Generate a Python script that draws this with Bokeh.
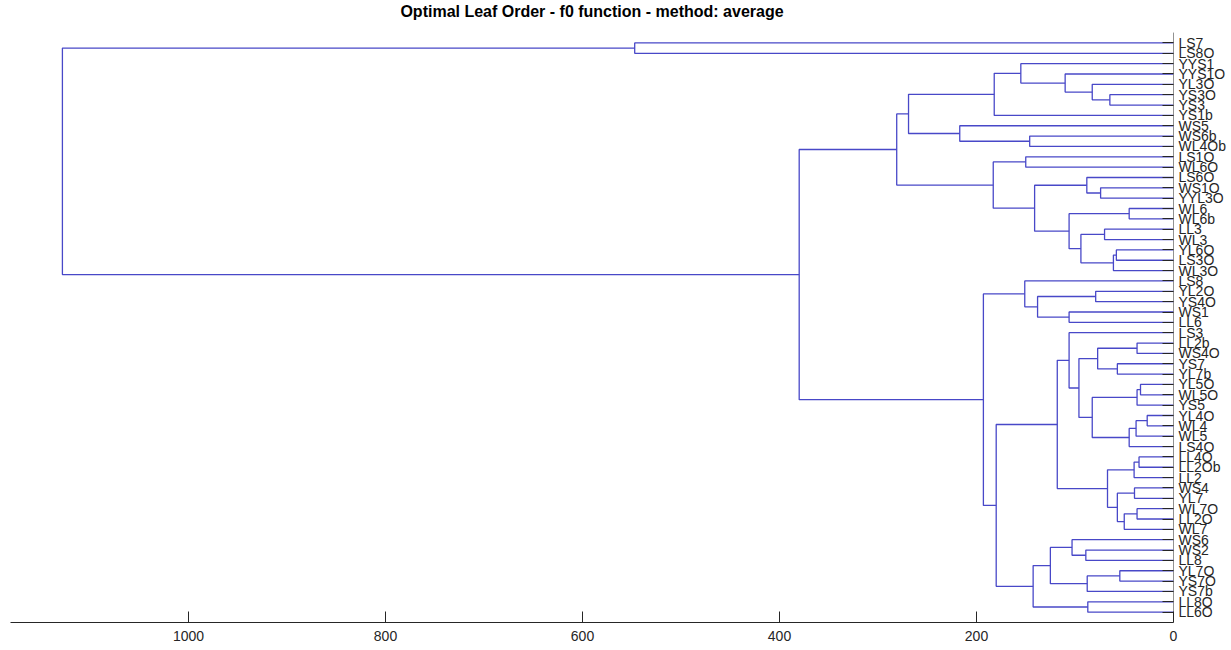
from bokeh.plotting import figure
from bokeh.models import Range1d, FixedTicker, ColumnDataSource, Label
from bokeh.embed import file_html
from bokeh.resources import INLINE

# ---------------- data ----------------
title_text = "Optimal Leaf Order - f0 function - method: average"

leaf_names = ["LS7", "LS8O", "YYS1", "YYS1O", "YL3O", "YS3O", "YS3", "YS1b", "WS5", "WS6b",
              "WL4Ob", "LS1O", "WL6O", "LS6O", "WS1O", "YYL3O", "WL6", "WL6b", "LL3", "WL3",
              "YL6O", "LS3O", "WL3O", "LS8", "YL2O", "YS4O", "WS1", "LL6", "LS3", "LL2b",
              "WS4O", "YS7", "YL7b", "YL5O", "WL5O", "YS5", "YL4O", "WL4", "WL5", "LS4O",
              "LL4O", "LL2Ob", "LL2", "WS4", "YL7", "WL7O", "LL2O", "WL7", "WS6", "WS2",
              "LL8", "YL7O", "YS7O", "YS7b", "LL8O", "LL6O"]

# linkage: node id, left child, right child, merge height
node_ids = ["n1", "n2", "n3", "n4", "n5", "n6", "n7", "n8", "n9", "n10",
            "n11", "n12", "n13", "n14", "n15", "n16", "n17", "n18", "n19", "n20",
            "n21", "n22", "n23", "n24", "n25", "n26", "n27", "n28", "n29", "n30",
            "n31", "n32", "n33", "n34", "n35", "n36", "n37", "n38", "n39", "n40",
            "n41", "n42", "n43", "n44", "n45", "n46", "n47", "n48", "n49", "n50",
            "n51", "n52", "n53", "n54", "n55"]
left_child = ["LS7", "YS3O", "YL3O", "YYS1O", "YYS1", "n5", "WS6b", "WS5", "n6", "LS1O",
              "WS1O", "LS6O", "WL6", "LL3", "YL6O", "n15", "n14", "n13", "n12", "n10",
              "n9", "YL2O", "WS1", "n22", "LS8", "LL2b", "YS7", "n26", "YL5O", "n29",
              "YL4O", "n31", "n32", "n30", "n28", "LS3", "LL4O", "n37", "WS4", "WL7O",
              "n40", "n39", "n38", "n36", "WS2", "WS6", "YL7O", "n47", "n46", "LL8O",
              "n49", "n44", "n25", "n21", "n1"]
right_child = ["LS8O", "YS3", "n2", "n3", "n4", "YS1b", "WL4Ob", "n7", "n8", "WL6O",
               "YYL3O", "n11", "WL6b", "WL3", "LS3O", "WL3O", "n16", "n17", "n18", "n19",
               "n20", "YS4O", "LL6", "n23", "n24", "WS4O", "YL7b", "n27", "WL5O", "YS5",
               "WL4", "WL5", "LS4O", "n33", "n34", "n35", "LL2Ob", "LL2", "YL7", "LL2O",
               "WL7", "n41", "n42", "n43", "LL8", "n45", "YS7O", "YS7b", "n48", "LL6O",
               "n50", "n51", "n52", "n53", "n54"]
merge_height = [547, 64.6, 82.5, 110, 155, 182, 146, 217, 269, 150,
                74, 88, 45, 70, 58, 61, 94, 106, 141, 183,
                281, 79, 106, 138, 151, 37, 57, 77, 33.5, 37,
                26.7, 38, 45, 82.5, 96, 106, 35, 40, 39.6, 37,
                50, 57, 67, 118, 89, 103, 54.5, 87.6, 125, 87,
                142.5, 180, 193, 380, 1128]

x_ticks = [0, 200, 400, 600, 800, 1000]

# ---------------- layout of the tree ----------------
pos_y = {name: i + 1 for i, name in enumerate(leaf_names)}
pos_h = {name: 0.0 for name in leaf_names}
xs, ys = [], []
for nid, a, b, h in zip(node_ids, left_child, right_child, merge_height):
    ya, yb = pos_y[a], pos_y[b]
    xs.append([pos_h[a], h, h, pos_h[b]])
    ys.append([ya, ya, yb, yb])
    pos_y[nid] = (ya + yb) / 2.0
    pos_h[nid] = h

src = ColumnDataSource(dict(xs=xs, ys=ys))

n = len(leaf_names)
x_max = 1180.7
y_bottom = n + 1          # lower limit of the leaf axis
y_top = 0                 # upper limit of the leaf axis
y_headroom = -3.1         # room above the axes for the title

p = figure(width=1231, height=650,
           x_range=Range1d(x_max, 0), y_range=Range1d(y_bottom, y_headroom),
           y_axis_location="right",
           output_backend="svg", toolbar_location=None,
           min_border_left=10, min_border_right=58,
           min_border_top=0, min_border_bottom=28)

p.multi_line(xs="xs", ys="ys", source=src, line_color="#4848c8", line_width=1.3)

# leaf axis line (only over the axes' own limits)
p.line(x=[0, 0], y=[y_top, y_bottom], line_color="#262626", line_width=1)

# title
p.add_layout(Label(x=x_max / 2, y=-2.0,
                   text=title_text, text_align="center", text_baseline="middle",
                   text_font="Liberation Sans", text_font_style="bold",
                   text_font_size="16px", text_color="#000000"))

p.outline_line_color = None
p.xgrid.grid_line_color = None
p.ygrid.grid_line_color = None
p.background_fill_color = "white"
p.border_fill_color = "white"

# bottom axis
xa = p.xaxis[0]
xa.ticker = FixedTicker(ticks=x_ticks)
xa.major_tick_in = 11
xa.major_tick_out = 0
xa.minor_tick_line_color = None
xa.axis_line_color = "#262626"
xa.major_tick_line_color = "#262626"
xa.major_label_text_font = "Liberation Sans"
xa.major_label_text_font_size = "14px"
xa.major_label_text_color = "#262626"
xa.major_label_standoff = 8

# right (leaf) axis
ya_ = p.yaxis[0]
ya_.ticker = FixedTicker(ticks=list(range(1, n + 1)))
ya_.major_label_overrides = {i + 1: name for i, name in enumerate(leaf_names)}
ya_.major_tick_in = 11
ya_.major_tick_out = 0
ya_.minor_tick_line_color = None
ya_.axis_line_color = None
ya_.major_tick_line_color = "#262626"
ya_.major_label_text_font = "Liberation Sans"
ya_.major_label_text_font_size = "14px"
ya_.major_label_text_color = "#262626"
ya_.major_label_standoff = 5

open("out.html", "w").write(file_html(p, INLINE))
